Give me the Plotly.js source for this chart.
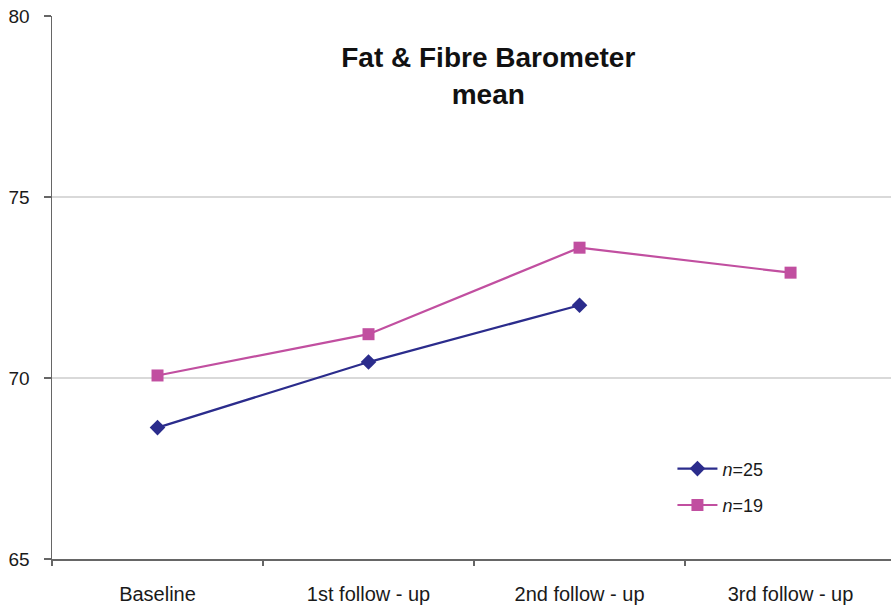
<!DOCTYPE html>
<html>
<head>
<meta charset="utf-8">
<script src="https://cdn.plot.ly/plotly-3.0.1.min.js"></script>
<style>html,body{margin:0;padding:0;background:#fff;}#chart{width:891px;height:606px;}</style>
</head>
<body>
<div id="chart"></div>
<script>
var categories = ["Baseline", "1st follow - up", "2nd follow - up", "3rd follow - up"];
var n25Values = [68.63, 70.44, 72.01, null];
var n19Values = [70.07, 71.21, 73.60, 72.91];
var seriesNames = ["<i>n</i>=25", "<i>n</i>=19"];
var yTicks = [65, 70, 75, 80];

var traces = [
  {
    x: categories, y: n25Values, name: seriesNames[0], type: "scatter", mode: "lines+markers",
    legendgroup: "a",
    line: {color: "#2B2C8C", width: 2.2},
    marker: {symbol: "diamond", size: 12, color: "#2B2C8C"}
  },
  {
    x: categories, y: n19Values, name: seriesNames[1], type: "scatter", mode: "lines+markers",
    legendgroup: "b",
    line: {color: "#C14FA0", width: 2.2},
    marker: {symbol: "square", size: 12, color: "#C14FA0"}
  }
];

var layout = {
  width: 891, height: 606,
  margin: {l: 52, r: 0, t: 16, b: 47},
  paper_bgcolor: "#ffffff", plot_bgcolor: "#ffffff",
  font: {family: "Liberation Sans, Arial, sans-serif", color: "#1a1a1a"},
  title: {
    text: "<b>Fat & Fibre Barometer<br>mean</b>",
    font: {size: 28, color: "#111111", family: "Liberation Sans, Arial, sans-serif"},
    x: 0.52, xref: "paper", xanchor: "center",
    y: 0.889, yref: "container", yanchor: "top"
  },
  xaxis: {
    type: "category",
    range: [-0.5, 3.476],
    tickson: "boundaries",
    ticks: "outside", ticklen: 5, tickcolor: "#666666", tickwidth: 1.5,
    showline: true, linecolor: "#666666", linewidth: 1.5,
    showgrid: false, zeroline: false,
    ticklabelstandoff: 16,
    tickfont: {size: 20, color: "#1a1a1a"}
  },
  yaxis: {
    range: [65, 80],
    tickvals: yTicks, ticktext: yTicks.map(String),
    ticks: "outside", ticklen: 7, tickcolor: "#666666", tickwidth: 1.5,
    showline: true, linecolor: "#666666", linewidth: 1.5,
    showgrid: true, gridcolor: "#d9d9d9", gridwidth: 1.2,
    zeroline: false,
    ticklabelstandoff: 10,
    tickfont: {size: 19, color: "#1a1a1a"}
  },
  showlegend: true,
  legend: {
    x: 0.7395, xanchor: "left", y: 0.2, yanchor: "top",
    bgcolor: "rgba(0,0,0,0)",
    itemwidth: 40,
    tracegroupgap: 10,
    font: {size: 18, color: "#1a1a1a"}
  }
};

Plotly.newPlot("chart", traces, layout, {displayModeBar: false, staticPlot: true});
</script>
</body>
</html>
